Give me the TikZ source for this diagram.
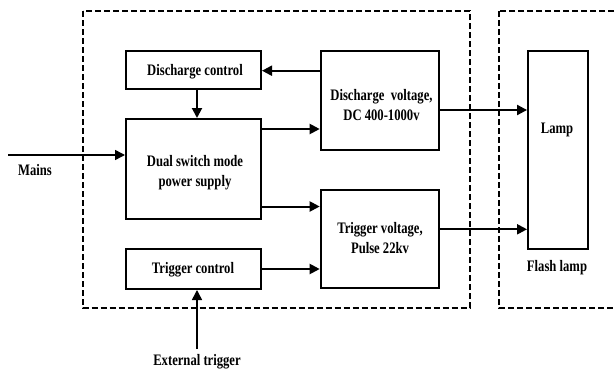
\documentclass[tikz,border=0pt]{standalone}
\usepackage{fontspec}
\setmainfont[FakeStretch=0.79]{Liberation Serif}
\usetikzlibrary{arrows.meta,calc}
\begin{document}
\begin{tikzpicture}[x=1pt,y=-1pt,
  blk/.style={draw,line width=2pt,inner sep=0pt},
  lbl/.style={inner sep=0pt,font=\fontsize{16}{20}\selectfont\bfseries,align=center},
  grp/.style={draw,line width=2pt,dash pattern=on 6pt off 3pt},
  arr/.style={line width=2pt,-{Triangle[length=10pt,width=10pt]}},
  thinarr/.style={line width=1.5pt,-{Triangle[length=10pt,width=10pt]}}]
\useasboundingbox (0,0) rectangle (616,372);
\begin{scope}
\clip (0,0) rectangle (616,372);
\draw[grp] (82.5,11) rectangle (469.5,308);
\draw[grp] (499,11) rectangle (660,308);
\end{scope}
\node[blk,minimum width=135pt,minimum height=38.6pt] (dc) at (193.5,70) {};
\node[blk,minimum width=135pt,minimum height=100pt] (ps) at (193.5,169) {};
\node[blk,minimum width=135pt,minimum height=40pt] (tc) at (193.5,269) {};
\node[blk,minimum width=118.6pt,minimum height=99.3pt] (dv) at (380,100.3) {};
\node[blk,minimum width=118.6pt,minimum height=98pt] (tv) at (380,239) {};
\node[blk,minimum width=60.3pt,minimum height=198.6pt] (lamp) at (558.2,150) {};
\node[lbl] (dctxt) at (195,72) {Discharge control};
\node[lbl] (pstxt) at (195,173) {Dual switch mode\\power supply};
\node[lbl] (tctxt) at (193,270) {Trigger control};
\node[lbl] (dvtxt) at (381.5,105.5) {Discharge\ \ voltage,\\DC 400-1000v};
\node[lbl] (tvtxt) at (380,238.5) {Trigger voltage,\\Pulse 22kv};
\node[lbl] (lamptxt) at (557,130) {Lamp};
\node[lbl] (flash) at (557,267.5) {Flash lamp};
\node[lbl] (mains) at (35,170) {Mains};
\node[lbl] (ext) at (197,361.5) {External trigger};
\coordinate (mainsin) at (8,155);
\coordinate (extin) at (197,349);
\coordinate (y1) at (0,70.7);
\coordinate (y2) at (0,129);
\coordinate (y3) at (0,206.5);
\coordinate (y4) at (0,110);
\coordinate (y5) at (0,229.3);
\draw[arr] (dv.west |- y1) -- (dc.east |- y1);
\draw[arr] (dc.south -| extin) -- (ps.north -| extin);
\draw[arr] (ps.east |- y2) -- (dv.west |- y2);
\draw[arr] (ps.east |- y3) -- (tv.west |- y3);
\draw[arr] (tc.east) -- (tc.east -| tv.west);
\draw[thinarr] (extin) -- (tc.south -| extin);
\draw[thinarr] (mainsin) -- (mainsin -| ps.west);
\draw[arr] (dv.east |- y4) -- (lamp.west |- y4);
\draw[arr] (tv.east |- y5) -- (lamp.west |- y5);
\end{tikzpicture}
\end{document}
